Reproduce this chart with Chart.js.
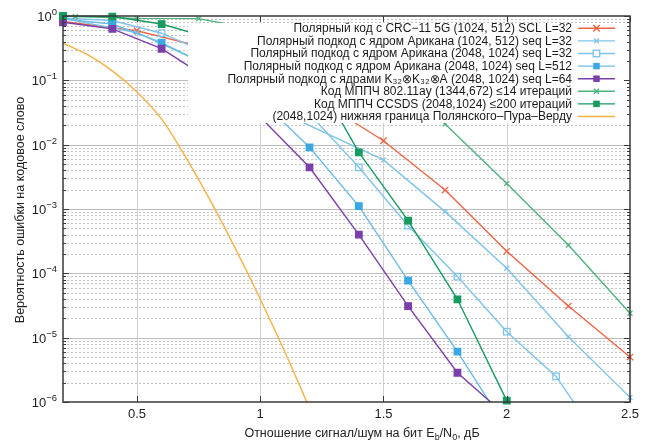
<!DOCTYPE html>
<html><head><meta charset="utf-8">
<script src="https://cdn.jsdelivr.net/npm/chart.js@4"></script>
<style>html,body{margin:0;padding:0;background:#fff}#c{display:block}</style>
</head><body>
<canvas id="c" width="652" height="442"></canvas>
<script>
// ---- data ----
const xTickValues = [0.5, 1, 1.5, 2, 2.5];
const yDecades = [1, 1e-1, 1e-2, 1e-3, 1e-4, 1e-5, 1e-6];

const sclX = [0.2, 0.5, 0.75, 1.0, 1.25, 1.5, 1.75, 2.0, 2.25, 2.5];
const sclY = [0.82, 0.59, 0.34, 0.14, 0.046, 0.0115, 1.97e-3, 2.2e-4, 3.1e-5, 5e-6];

const ar1024X = [0.2, 0.5, 0.75, 1.0, 1.5, 1.75, 2.0, 2.25, 2.5];
const ar1024Y = [0.92, 0.55, 0.2, 0.045, 5.8e-3, 9.1e-4, 1.2e-4, 1.03e-5, 1.18e-6];

const ar2048X = [0.2, 0.4, 0.6, 0.8, 1.0, 1.2, 1.4, 1.6, 1.8, 2.0, 2.2, 2.4];
const ar2048Y = [0.93, 0.85, 0.54, 0.25, 0.1, 0.03, 4.45e-3, 5.5e-4, 8.9e-5, 1.24e-5, 2.5e-6, 1.9e-7];

const ar512X = [0.2, 0.4, 0.6, 0.8, 1.0, 1.2, 1.4, 1.6, 1.8, 2.0];
const ar512Y = [0.9, 0.75, 0.385, 0.16, 0.05, 9.1e-3, 1.11e-3, 7.7e-5, 6.05e-6, 3.8e-7];

const kX = [0.2, 0.4, 0.6, 0.8, 1.0, 1.2, 1.4, 1.6, 1.8, 2.0];
const kY = [0.80, 0.63, 0.31, 0.1, 0.027, 4.45e-3, 4.0e-4, 3.1e-5, 2.85e-6, 6e-7];

const ayX = [0.25, 0.5, 0.75, 1.0, 1.25, 1.5, 1.75, 2.0, 2.25, 2.5];
const ayY = [0.98, 0.92, 0.91, 0.6, 0.3, 0.1, 0.021, 2.5e-3, 2.75e-4, 2.4e-5];

const ccsdsX = [0.2, 0.4, 0.6, 0.8, 1.0, 1.2, 1.4, 1.6, 1.8, 2.0];
const ccsdsY = [1.0, 0.98, 0.75, 0.45, 0.3, 0.17, 7.6e-3, 6.6e-4, 3.95e-5, 1.05e-6];

const ppvX = [0.2, 0.3, 0.4, 0.5, 0.6, 0.7, 0.8, 0.9, 1.0, 1.1, 1.2];
const ppvY = [0.38, 0.25, 0.14, 0.066, 0.025, 6.2e-3, 1.3e-3, 2.4e-4, 4e-5, 6e-6, 8e-7];

const seriesLabels = [
  'Полярный код с CRC−11 5G (1024, 512) SCL L=32',
  'Полярный подкод с ядром Арикана (1024, 512) seq L=32',
  'Полярный подкод с ядром Арикана (2048, 1024) seq L=32',
  'Полярный подкод с ядром Арикана (2048, 1024) seq L=512',
  'Полярный подкод с ядрами K₃₂⊗K₃₂⊗A (2048, 1024) seq L=64',
  'Код МППЧ 802.11ay (1344,672) ≤14 итераций',
  'Код МППЧ CCSDS (2048,1024) ≤200 итераций',
  '(2048,1024) нижняя граница Полянского–Пура–Верду'
];
const xTitle = ['Отношение сигнал/шум на бит E', 'b', '/N', '0', ', дБ'];
const yTitle = 'Вероятность ошибки на кодовое слово';

// ---- build ----
const pts = (xs, ys) => xs.map((x, i) => ({x: x, y: ys[i]}));
const clipAll = {left: 6, top: 6, right: 6, bottom: 6};
const clipBottom = {left: 6, top: 6, right: 6, bottom: 0};

const styles = [
  {color: '#ec6445', fill: '#ec6445', style: 'crossRot', r: 4.5, clip: clipAll},
  {color: '#7ec3ea', fill: '#7ec3ea', style: 'crossRot', r: 3.5, clip: clipAll},
  {color: '#7ec3ea', fill: 'rgba(255,255,255,0)', style: 'rect', r: 4.6, clip: clipBottom},
  {color: '#6cbbe8', fill: '#3aa8e2', style: 'rect', r: 4.6, clip: clipBottom},
  {color: '#7b3fa9', fill: '#7b3fa9', style: 'rect', r: 4.6, clip: clipBottom},
  {color: '#4fb27c', fill: '#4fb27c', style: 'crossRot', r: 3.5, clip: clipAll},
  {color: '#179b5f', fill: '#179b5f', style: 'rect', r: 4.6, clip: clipAll},
  {color: '#f5b146', fill: '#f5b146', style: false, r: 0, clip: clipBottom}
];
const seriesData = [pts(sclX, sclY), pts(ar1024X, ar1024Y), pts(ar2048X, ar2048Y), pts(ar512X, ar512Y),
                    pts(kX, kY), pts(ayX, ayY), pts(ccsdsX, ccsdsY), pts(ppvX, ppvY)];

const datasets = seriesData.map((d, i) => ({
  label: seriesLabels[i],
  data: d,
  borderColor: styles[i].color,
  backgroundColor: styles[i].fill,
  pointBorderColor: styles[i].style === 'rect' && i !== 2 ? styles[i].fill : styles[i].color,
  pointBackgroundColor: styles[i].fill,
  pointStyle: styles[i].style || 'circle',
  pointRadius: styles[i].r,
  pointBorderWidth: 1.3,
  borderWidth: 1.4,
  tension: i === 7 ? 0.3 : 0,
  cubicInterpolationMode: i === 7 ? 'monotone' : 'default',
  clip: styles[i].clip,
  order: 7 - i
}));

const allY = [];
for (let e = 0; e >= -6; e--) {
  for (let m = 1; m <= 9; m++) {
    const v = m * Math.pow(10, e);
    if (v <= 1.0000001 && v >= 1e-6 * 0.999999) allY.push(v);
    if (e === 0) break;
  }
}

const FONT = '"Liberation Sans", Arial, sans-serif';

const decor = {
  id: 'decor',
  beforeDatasetsDraw(chart) {
    const {ctx, chartArea: a, scales: {x, y}} = chart;
    ctx.save();
    ctx.lineWidth = 1;
    allY.forEach(v => {
      const py = Math.round(y.getPixelForValue(v)) + 0.5;
      if (py <= a.top + 1 || py >= a.bottom - 1) return;
      const lg = Math.log10(v);
      const major = Math.abs(lg - Math.round(lg)) < 1e-6;
      ctx.strokeStyle = major ? '#bdbdbd' : '#c4c4c4';
      ctx.setLineDash(major ? [] : [2, 2]);
      ctx.beginPath(); ctx.moveTo(a.left, py); ctx.lineTo(a.right, py); ctx.stroke();
    });
    ctx.setLineDash([]);
    ctx.strokeStyle = '#d0d0d0';
    xTickValues.forEach(v => {
      const px = Math.round(x.getPixelForValue(v)) + 0.5;
      if (px >= a.right - 1) return;
      ctx.beginPath(); ctx.moveTo(px, a.top); ctx.lineTo(px, a.bottom); ctx.stroke();
    });
    ctx.restore();
  },
  afterDatasetsDraw(chart) {
    const {ctx, chartArea: a, scales: {x, y}} = chart;
    ctx.save();
    // opaque key box
    ctx.fillStyle = '#fff';
    ctx.fillRect(188, 23, a.right - 188, 123 - 23);
    ctx.font = '12px ' + FONT;
    ctx.textAlign = 'right';
    ctx.textBaseline = 'middle';
    seriesLabels.forEach((lab, i) => {
      const ry = 28.3 + i * 12.6;
      ctx.fillStyle = '#1a1a1a';
      ctx.fillText(lab, 572, ry + 0.5);
      const s = styles[i];
      ctx.strokeStyle = s.color; ctx.lineWidth = 1.4;
      ctx.beginPath(); ctx.moveTo(578, ry); ctx.lineTo(615, ry); ctx.stroke();
      const mx = 596.5;
      if (s.style === 'rect') {
        const h = s.r * Math.SQRT1_2;
        if (i === 2) { ctx.fillStyle = '#fff'; ctx.fillRect(mx - h, ry - h, 2*h, 2*h); ctx.strokeRect(mx - h, ry - h, 2*h, 2*h); }
        else { ctx.fillStyle = s.fill; ctx.fillRect(mx - h, ry - h, 2*h, 2*h); }
      } else if (s.style === 'crossRot') {
        const h = s.r * Math.SQRT1_2;
        ctx.beginPath(); ctx.moveTo(mx - h, ry - h); ctx.lineTo(mx + h, ry + h);
        ctx.moveTo(mx - h, ry + h); ctx.lineTo(mx + h, ry - h); ctx.stroke();
      }
    });
    // frame
    ctx.strokeStyle = '#3a3a3a'; ctx.lineWidth = 1.5;
    ctx.strokeRect(a.left, a.top, a.right - a.left, a.bottom - a.top);
    ctx.lineWidth = 1;
    allY.forEach(v => {
      const py = Math.round(y.getPixelForValue(v)) + 0.5;
      const lg = Math.log10(v);
      const len = Math.abs(lg - Math.round(lg)) < 1e-6 ? 6 : 3;
      ctx.beginPath();
      ctx.moveTo(a.left, py); ctx.lineTo(a.left + len, py);
      ctx.moveTo(a.right, py); ctx.lineTo(a.right - len, py);
      ctx.stroke();
    });
    xTickValues.forEach(v => {
      const px = Math.round(x.getPixelForValue(v)) + 0.5;
      ctx.beginPath();
      ctx.moveTo(px, a.bottom); ctx.lineTo(px, a.bottom - 6);
      ctx.moveTo(px, a.top); ctx.lineTo(px, a.top + 6);
      ctx.stroke();
    });
    ctx.restore();
  },
  afterDraw(chart) {
    const {ctx, scales: {y}} = chart;
    ctx.save();
    ctx.fillStyle = '#222';
    // y tick labels 10^n
    ctx.textBaseline = 'alphabetic';
    yDecades.forEach(v => {
      const py = y.getPixelForValue(v);
      const e = Math.round(Math.log10(v));
      const es = e === 0 ? '0' : '−' + Math.abs(e);
      ctx.font = '9.5px ' + FONT;
      const ew = ctx.measureText(es).width;
      ctx.textAlign = 'left';
      ctx.fillText(es, 57 - ew, py - 1);
      ctx.font = '13px ' + FONT;
      ctx.textAlign = 'right';
      ctx.fillText('10', 57 - ew, py + 5);
    });
    // y title
    ctx.font = '12.5px ' + FONT;
    ctx.textAlign = 'center'; ctx.textBaseline = 'middle';
    ctx.translate(21, 210); ctx.rotate(-Math.PI / 2);
    ctx.fillText(yTitle, 0, 0);
    ctx.setTransform(1, 0, 0, 1, 0, 0);
    // x title with subscripts
    const parts = xTitle.map((t, i) => ({t: t, sub: i === 1 || i === 3}));
    let total = 0;
    parts.forEach(p => { ctx.font = (p.sub ? '9px ' : '12.5px ') + FONT; p.w = ctx.measureText(p.t).width; total += p.w; });
    let cx = 362 - total / 2;
    ctx.textAlign = 'left'; ctx.textBaseline = 'alphabetic';
    parts.forEach(p => {
      ctx.font = (p.sub ? '9px ' : '12.5px ') + FONT;
      ctx.fillText(p.t, cx, p.sub ? 440 : 437);
      cx += p.w;
    });
    ctx.restore();
  }
};

new Chart(document.getElementById('c'), {
  type: 'line',
  data: {datasets: datasets},
  options: {
    responsive: false,
    animation: false,
    devicePixelRatio: 1,
    layout: {padding: {top: 16, right: 22, left: 0, bottom: 0}},
    plugins: {legend: {display: false}, tooltip: {enabled: false}},
    scales: {
      x: {
        type: 'linear', min: 0.2, max: 2.5,
        afterBuildTicks: s => { s.ticks = xTickValues.map(v => ({value: v})); },
        afterFit: s => { s.height = 40; },
        grid: {display: false, drawTicks: false},
        border: {display: false},
        ticks: {color: '#222', font: {size: 13, family: FONT}, padding: 5, autoSkip: false, maxRotation: 0,
                callback: v => String(v)}
      },
      y: {
        type: 'logarithmic', min: 1e-6, max: 1,
        afterBuildTicks: s => { s.ticks = yDecades.map(v => ({value: v})); },
        afterFit: s => { s.width = 63; },
        grid: {display: false, drawTicks: false},
        border: {display: false},
        ticks: {display: false}
      }
    }
  },
  plugins: [decor]
});
</script>
</body></html>
